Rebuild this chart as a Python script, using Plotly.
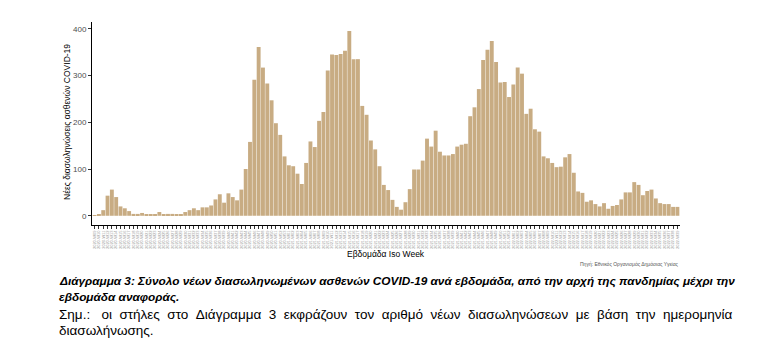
import plotly.graph_objects as go

# ---- data ----
start_year, start_week = 2020, 9
weeks_in_year = {2020: 53, 2021: 52, 2022: 52}

intubations = [
    1, 2, 12, 43, 56, 40, 20, 16, 10, 4, 4, 6, 3, 3, 2, 8, 3, 4, 4, 3, 2, 8, 12, 16, 12,
    18, 18, 22, 35, 46, 28, 48, 40, 33, 56, 100, 158,
    291, 361, 317, 283, 247, 198, 173, 127, 108, 106, 90, 68, 113, 159, 147, 203, 222,
    311, 345, 344, 346, 353, 395, 335, 335, 235, 216, 161, 142, 106, 66, 55, 34, 19, 13,
    29, 57, 99, 99, 118, 165, 148,
    182, 137, 129, 129, 132, 148, 152, 154, 213, 232, 271, 333, 355, 374, 329, 285, 286,
    254, 281, 317, 304, 218, 229, 185, 180, 127, 123, 113, 104, 105, 125, 132, 92, 52, 49,
    30, 33, 25, 20, 27, 15, 21, 23,
    35, 50, 50, 72, 66, 44, 53, 56, 37, 27, 25, 25, 19, 19,
]

week_labels = []
y, w = start_year, start_week
for _ in intubations:
    week_labels.append(f"{y}-W{w:02d}")
    w += 1
    if w > weeks_in_year[y]:
        y, w = y + 1, 1

y_ticks = [0, 100, 200, 300, 400]

y_title = "Νέες διασωληνώσεις ασθενών COVID-19"
x_title = "Εβδομάδα Iso Week"
source = "Πηγή: Εθνικός Οργανισμός Δημόσιας Υγείας"
caption1 = "Διάγραμμα 3: Σύνολο νέων διασωληνωμένων ασθενών COVID-19 ανά εβδομάδα, από την αρχή της πανδημίας μέχρι την"
caption2 = "εβδομάδα αναφοράς."
note1_words = ["Σημ.:\u00a0", "οι", "στήλες", "στο", "Διάγραμμα", "3", "εκφράζουν", "τον", "αριθμό",
               "νέων", "διασωληνώσεων", "με", "βάση", "την", "ημερομηνία"]
note2 = "διασωλήνωσης."

# ---- layout geometry (page body has an 8px margin) ----
OFF = 8
W_FIG, H_FIG = 760 - OFF, 355 - OFF
L, R, T, B = 84, 80, 14, 130
PW, PH = W_FIG - L - R, H_FIG - T - B


def px(x):
    return (x - OFF - L) / PW


def py(yv):
    return (H_FIG - B - (yv - OFF)) / PH


fig = go.Figure()
fig.add_trace(go.Bar(
    x=week_labels, y=intubations,
    marker=dict(color="#C8AC83", line=dict(width=0)),
    hoverinfo="x+y",
))

fig.update_layout(
    width=W_FIG, height=H_FIG,
    margin=dict(l=L, r=R, t=T, b=B, autoexpand=False),
    paper_bgcolor="white", plot_bgcolor="white",
    bargap=0.1,
    showlegend=False,
    font=dict(family="Liberation Sans, Arial, sans-serif"),
)
fig.update_xaxes(
    type="category", automargin=False,
    range=[-0.6, len(intubations) - 0.4],
    tickmode="array", tickvals=week_labels, ticktext=week_labels,
    tickangle=-90, tickfont=dict(size=4, color="#9a9a9a"),
    ticks="outside", ticklen=3, tickwidth=1, tickcolor="#333333",
    showline=True, linecolor="black", linewidth=1,
    showgrid=False, zeroline=False,
)
fig.update_yaxes(
    automargin=False,
    range=[-19.75, 414.5],
    tickvals=y_ticks, ticktext=[str(v) for v in y_ticks],
    tickfont=dict(size=8, color="#4d4d4d"),
    ticks="outside", ticklen=3, tickwidth=1, tickcolor="#333333",
    showline=True, linecolor="black", linewidth=1,
    showgrid=False, zeroline=False,
)

ann = []
ann.append(dict(x=px(67), y=py(122), xref="paper", yref="paper", text=y_title,
                textangle=-90, showarrow=False, xanchor="center", yanchor="middle",
                font=dict(size=8.5, color="black")))
ann.append(dict(x=px(386), y=py(254), xref="paper", yref="paper", text=x_title,
                showarrow=False, xanchor="center", yanchor="middle",
                font=dict(size=8.5, color="black")))
ann.append(dict(x=px(681), y=py(264), xref="paper", yref="paper", text=source,
                showarrow=False, xanchor="right", yanchor="middle",
                font=dict(size=5, color="#555555")))
cap_font = dict(family="Liberation Sans, Arial, sans-serif", size=11.8, color="black")
ann.append(dict(x=px(57), y=py(281), xref="paper", yref="paper",
                text="<b><i>" + caption1 + "</i></b>",
                showarrow=False, xanchor="left", yanchor="middle", font=cap_font))
ann.append(dict(x=px(57), y=py(297), xref="paper", yref="paper",
                text="<b><i>" + caption2 + "</i></b>",
                showarrow=False, xanchor="left", yanchor="middle", font=cap_font))
body_font = dict(family="Liberation Sans, Arial, sans-serif", size=13.5, color="black")
ann.append(dict(x=px(57), y=py(314), xref="paper", yref="paper",
                text=("\u00a0" * 2).join(note1_words),
                showarrow=False, xanchor="left", yanchor="middle", font=body_font))
ann.append(dict(x=px(57), y=py(330), xref="paper", yref="paper", text=note2,
                showarrow=False, xanchor="left", yanchor="middle", font=body_font))
fig.update_layout(annotations=ann)

fig.write_html("out.html")
